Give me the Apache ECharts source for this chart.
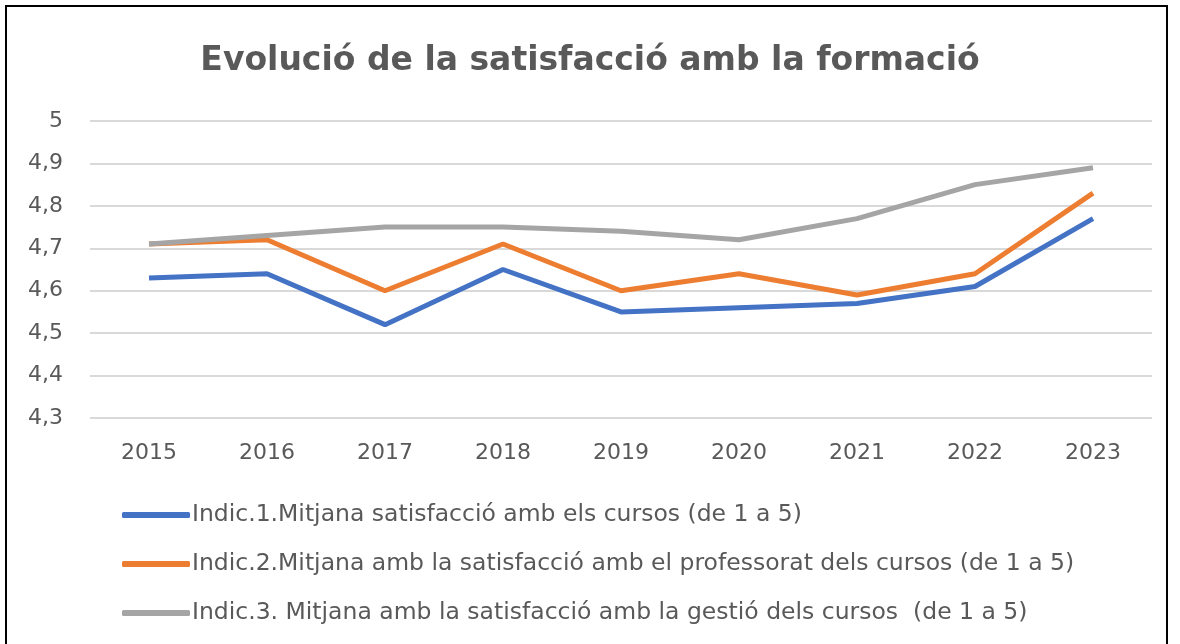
<!DOCTYPE html>
<html>
<head>
<meta charset="utf-8">
<script src="https://cdn.jsdelivr.net/npm/echarts@6/dist/echarts.min.js"></script>
<style>
  html, body { margin: 0; padding: 0; background: #fff; }
  #frame {
    position: absolute; left: 5px; top: 5px; width: 1163px; height: 650px;
    border: 2px solid #000; box-sizing: border-box;
  }
  #myChart { position: absolute; left: 0; top: 0; width: 1180px; height: 644px; }
</style>
</head>
<body>
<div id="frame"></div>
<div id="myChart"></div>
<script>
// dades del gràfic
var years = ["2015", "2016", "2017", "2018", "2019", "2020", "2021", "2022", "2023"];
var indic1 = [4.63, 4.64, 4.52, 4.65, 4.55, 4.56, 4.57, 4.61, 4.77];
var indic2 = [4.71, 4.72, 4.60, 4.71, 4.60, 4.64, 4.59, 4.64, 4.83];
var indic3 = [4.71, 4.73, 4.75, 4.75, 4.74, 4.72, 4.77, 4.85, 4.89];
var seriesNames = [
  "Indic.1.Mitjana satisfacció amb els cursos (de 1 a 5)",
  "Indic.2.Mitjana amb la satisfacció amb el professorat dels cursos (de 1 a 5)",
  "Indic.3. Mitjana amb la satisfacció amb la gestió dels cursos  (de 1 a 5)"
];
var colors = ["#4472C4", "#ED7D31", "#A5A5A5"];

var myChart = echarts.init(document.getElementById("myChart"));

function lineSeries(name, data, color) {
  return {
    name: name,
    type: "line",
    data: data,
    symbol: "none",
    lineStyle: { color: color, width: 5 },
    itemStyle: { color: color }
  };
}

myChart.setOption({
  animation: false,
  textStyle: { fontFamily: "DejaVu Sans" },
  title: {
    text: "Evolució de la satisfacció amb la formació",
    left: "center",
    top: 40,
    textStyle: { fontSize: 33, fontWeight: "bold", color: "#595959", fontFamily: "DejaVu Sans" }
  },
  grid: { left: 90, right: 28, top: 121, height: 297 },
  xAxis: {
    type: "category",
    data: years,
    boundaryGap: true,
    axisLine: { show: false },
    axisTick: { show: false },
    axisLabel: { color: "#595959", fontSize: 22, margin: 24 }
  },
  yAxis: {
    type: "value",
    min: 4.3,
    max: 5,
    interval: 0.1,
    axisLine: { show: false },
    axisTick: { show: false },
    axisLabel: {
      color: "#595959",
      fontSize: 22,
      margin: 27,
      formatter: function (v) { return String(Math.round(v * 10) / 10).replace(".", ","); }
    },
    splitLine: { lineStyle: { color: "#D9D9D9", width: 2 } }
  },
  legend: {
    orient: "vertical",
    left: 117,
    top: 498,
    itemGap: 25,
    itemWidth: 68,
    itemHeight: 6,
    icon: "roundRect",
    textStyle: { color: "#595959", fontSize: 23.5, padding: [0, 0, 0, -3] },
    data: seriesNames
  },
  series: [
    lineSeries(seriesNames[0], indic1, colors[0]),
    lineSeries(seriesNames[1], indic2, colors[1]),
    lineSeries(seriesNames[2], indic3, colors[2])
  ]
});
</script>
</body>
</html>
